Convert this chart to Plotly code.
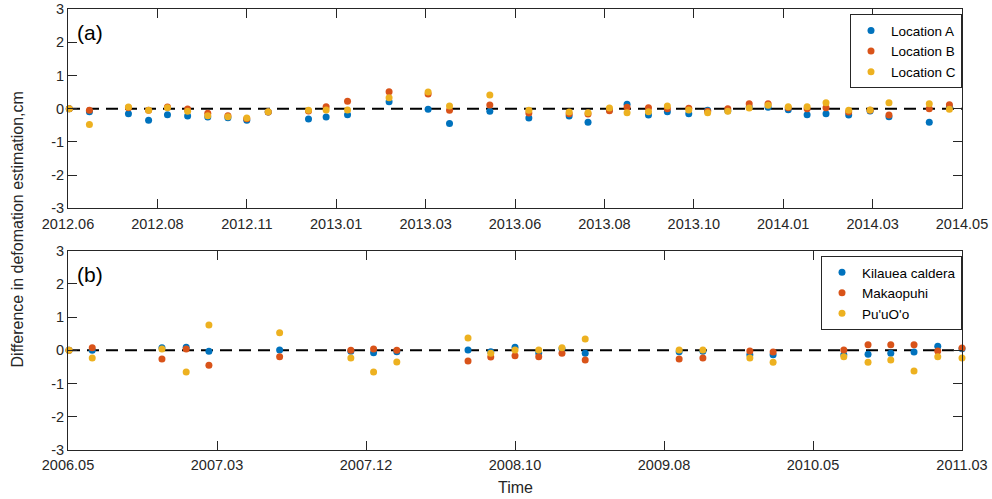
import plotly.graph_objects as go

# ---------------- data: panel (a) ----------------
dates_a = ["2012-06-21", "2012-07-07", "2012-08-07", "2012-08-23", "2012-09-07", "2012-09-23",
           "2012-10-09", "2012-10-25", "2012-11-09", "2012-11-26", "2012-12-28", "2013-01-11",
           "2013-01-28", "2013-03-02", "2013-04-02", "2013-04-19", "2013-05-21", "2013-06-21",
           "2013-07-23", "2013-08-07", "2013-08-24", "2013-09-07", "2013-09-24", "2013-10-09",
           "2013-10-26", "2013-11-10", "2013-11-26", "2013-12-13", "2013-12-28", "2014-01-13",
           "2014-01-28", "2014-02-12", "2014-03-02", "2014-03-19", "2014-04-03", "2014-05-05",
           "2014-05-21"]
loc_a = [0, -0.09, -0.15, -0.35, -0.18, -0.22, -0.25, -0.27, -0.35, -0.10, -0.31, -0.25,
         -0.18, 0.21, -0.02, -0.45, -0.08, -0.28, -0.22, -0.41, -0.04, 0.13, -0.19, -0.09,
         -0.15, -0.05, -0.06, 0.05, 0.04, -0.03, -0.18, -0.15, -0.19, -0.07, -0.24, -0.41, 0.05]
loc_b = [0, -0.05, 0.03, -0.05, 0.05, -0.01, -0.14, -0.21, -0.30, -0.10, -0.07, 0.06,
         0.22, 0.51, 0.44, -0.05, 0.11, -0.13, -0.15, -0.16, -0.06, 0.04, 0.03, 0.0,
         0.01, -0.08, 0.0, 0.15, 0.15, 0.03, 0.0, 0.03, -0.10, -0.05, -0.19, 0.0, 0.12]
loc_c = [0, -0.48, 0.05, -0.05, 0.03, -0.08, -0.21, -0.24, -0.28, -0.09, -0.05, -0.04,
         -0.04, 0.33, 0.50, 0.08, 0.41, -0.05, -0.10, -0.12, 0.02, -0.12, -0.09, 0.08,
         -0.04, -0.12, -0.08, 0.02, 0.10, 0.06, 0.06, 0.18, -0.05, -0.04, 0.18, 0.15, -0.02]
names_a = ["Location A", "Location B", "Location C"]
ticks_a = ["2012-06-20", "2012-08-30", "2012-11-09", "2013-01-19", "2013-03-31", "2013-06-10",
           "2013-08-20", "2013-10-30", "2014-01-09", "2014-03-21", "2014-05-31"]
ticklabels_a = ["2012.06", "2012.08", "2012.11", "2013.01", "2013.03", "2013.06",
                "2013.08", "2013.10", "2014.01", "2014.03", "2014.05"]

# ---------------- data: panel (b) ----------------
dates_b = ["2006-05-17", "2006-07-02", "2006-11-17", "2007-01-04", "2007-02-18", "2007-07-08",
           "2007-11-26", "2008-01-10", "2008-02-25", "2008-07-15", "2008-08-29", "2008-10-16",
           "2008-12-02", "2009-01-17", "2009-03-04", "2009-09-06", "2009-10-23", "2010-01-24",
           "2010-03-11", "2010-07-29", "2010-09-15", "2010-10-30", "2010-12-15", "2011-01-31",
           "2011-03-20"]
kilauea = [0, 0.0, 0.08, 0.09, -0.03, 0.01, -0.03, -0.07, -0.04, 0.01, -0.04, 0.09, -0.08,
           0.05, -0.09, -0.04, -0.03, -0.13, -0.13, -0.13, -0.12, -0.09, -0.05, 0.12, 0.05]
makaopuhi = [0, 0.08, -0.26, 0.04, -0.45, -0.19, 0.0, 0.04, 0.0, -0.32, -0.20, -0.16, -0.19,
             -0.09, -0.29, -0.26, -0.23, -0.02, -0.05, 0.01, 0.17, 0.17, 0.17, -0.02, 0.07]
puuoo = [0, -0.23, 0.04, -0.65, 0.76, 0.53, -0.23, -0.65, -0.35, 0.37, -0.09, 0.01, 0.01,
         0.08, 0.34, 0.01, 0.01, -0.23, -0.36, -0.19, -0.36, -0.29, -0.62, -0.19, -0.23]
names_b = ["Kilauea caldera", "Makaopuhi", "Pu'uO'o"]
ticks_b = ["2006-05-15", "2007-03-06", "2007-12-26", "2008-10-16", "2009-08-07",
           "2010-05-29", "2011-03-20"]
ticklabels_b = ["2006.05", "2007.03", "2007.12", "2008.10", "2009.08", "2010.05", "2011.03"]

yticks = [-3, -2, -1, 0, 1, 2, 3]

# ---------------- style ----------------
colors = ["#0072BD", "#D95319", "#EDB120"]
axc = "#262626"
font = "Liberation Sans, Arial, Helvetica, sans-serif"

fig = go.Figure()

for name, vals, col in zip(names_a, [loc_a, loc_b, loc_c], colors):
    fig.add_trace(go.Scatter(x=dates_a, y=vals, mode="markers", name=name,
                             marker=dict(color=col, size=7, line=dict(width=0)),
                             xaxis="x", yaxis="y", legend="legend", cliponaxis=False))
for name, vals, col in zip(names_b, [kilauea, makaopuhi, puuoo], colors):
    fig.add_trace(go.Scatter(x=dates_b, y=vals, mode="markers", name=name,
                             marker=dict(color=col, size=7, line=dict(width=0)),
                             xaxis="x2", yaxis="y2", legend="legend2", cliponaxis=False))

def xax(domain_anchor, ticks, labels, rng):
    return dict(type="date", range=rng, tickmode="array", tickvals=ticks, ticktext=labels,
                showline=True, linecolor=axc, linewidth=1, mirror="ticks",
                ticks="inside", ticklen=9, tickwidth=1, tickcolor=axc,
                showgrid=False, zeroline=False, anchor=domain_anchor, automargin=False,
                ticklabelstandoff=2,
                tickfont=dict(family=font, size=14.5, color=axc))

def yax(domain, anchor):
    return dict(domain=domain, range=[-3, 3], tickmode="array", tickvals=yticks,
                ticktext=[str(v) for v in yticks],
                showline=True, linecolor=axc, linewidth=1, mirror="ticks",
                ticks="inside", ticklen=9, tickwidth=1, tickcolor=axc,
                showgrid=False, zeroline=False, anchor=anchor, automargin=False,
                tickfont=dict(family=font, size=14.5, color=axc))

legend_style = dict(bgcolor="white", bordercolor=axc, borderwidth=1,
                    font=dict(family=font, size=13.5, color="#000000"),
                    xref="paper", yref="paper", xanchor="right", yanchor="top",
                    tracegroupgap=0, itemsizing="trace")

fig.update_layout(
    width=992, height=499,
    margin=dict(l=68, r=30, t=9, b=49, autoexpand=False),
    paper_bgcolor="white", plot_bgcolor="white",
    font=dict(family=font, color=axc),
    xaxis=xax("y", ticks_a, ticklabels_a, [ticks_a[0], ticks_a[-1]]),
    yaxis=yax([0.548, 1.0], "x"),
    xaxis2=xax("y2", ticks_b, ticklabels_b, [ticks_b[0], ticks_b[-1]]),
    yaxis2=yax([0.0, 0.452], "x2"),
    legend=dict(x=1.0, y=0.988, **legend_style),
    legend2=dict(x=1.0, y=0.440, **legend_style),
    shapes=[
        dict(type="line", xref="x domain", yref="y", x0=0, x1=1, y0=0, y1=0,
             line=dict(color="black", width=2, dash="12px,7px"), layer="below"),
        dict(type="line", xref="x2 domain", yref="y2", x0=0, x1=1, y0=0, y1=0,
             line=dict(color="black", width=2, dash="12px,7px"), layer="below"),
    ],
    annotations=[
        dict(text="(a)", xref="x domain", yref="y domain", x=0.008, y=0.95,
             xanchor="left", yanchor="top", showarrow=False,
             font=dict(family=font, size=21, color="#000000")),
        dict(text="(b)", xref="x2 domain", yref="y2 domain", x=0.008, y=0.95,
             xanchor="left", yanchor="top", showarrow=False,
             font=dict(family=font, size=21, color="#000000")),
        dict(text="Difference in defomation estimation,cm", xref="paper", yref="paper",
             x=-0.056, y=0.5, xanchor="center", yanchor="middle", textangle=-90,
             showarrow=False, font=dict(family=font, size=16, color=axc)),
        dict(text="Time", xref="paper", yref="paper", x=0.5, y=-0.085,
             xanchor="center", yanchor="middle", showarrow=False,
             font=dict(family=font, size=16, color=axc)),
    ],
)

fig.write_html("out.html")
